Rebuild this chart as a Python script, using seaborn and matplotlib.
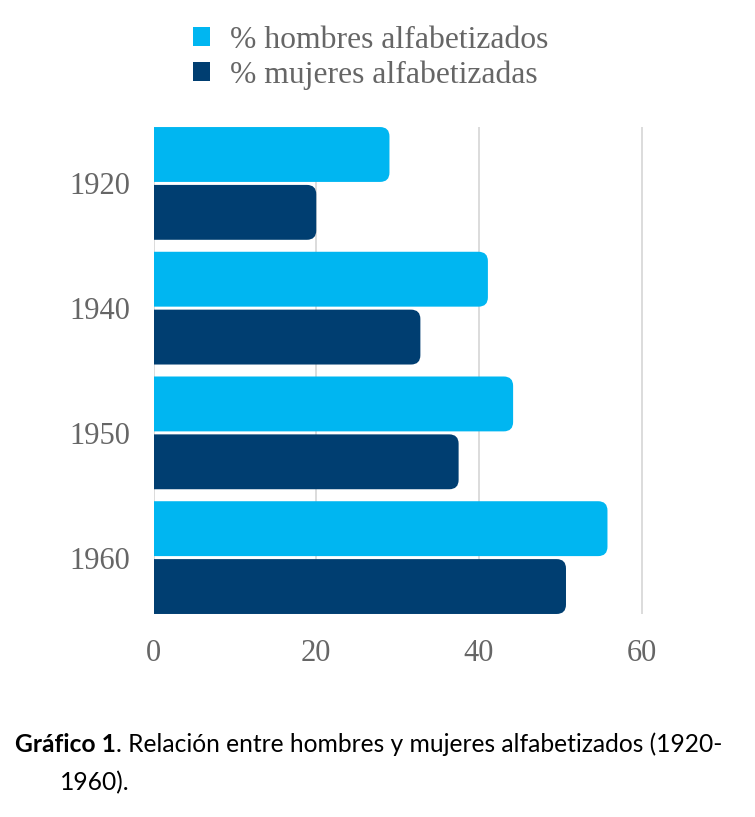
import matplotlib
matplotlib.use("Agg")
import matplotlib.pyplot as plt
import seaborn as sns
import pandas as pd
from matplotlib.patches import FancyBboxPatch, Patch

years = ["1920", "1940", "1950", "1960"]
hombres = [29.0, 41.1, 44.2, 55.8]
mujeres = [20.0, 32.8, 37.5, 50.7]
series = ["% hombres alfabetizados", "% mujeres alfabetizadas"]
colors = ["#00B6F1", "#003E71"]
xticks = [0, 20, 40, 60]

df = pd.DataFrame({
    "year": years * 2,
    "value": hombres + mujeres,
    "serie": [series[0]] * len(years) + [series[1]] * len(years),
})

sns.set_theme(style="white")
plt.rcParams["font.family"] = ["Liberation Serif", "DejaVu Serif"]

fig = plt.figure(figsize=(7.55, 8.17), dpi=100)
ax = fig.add_axes([0.2034, 0.2485, 0.668, 0.596])

sns.barplot(data=df, x="value", y="year", hue="serie", order=years,
            hue_order=series, palette=colors, orient="h", width=0.928,
            legend=False, ax=ax, saturation=1)

ax.set_xlim(0, 62)
ax.set_ylim(3.452, -0.452)

# replace bars with right-rounded versions
bars = list(ax.patches)
for p in bars:
    x0, y0 = p.get_x(), p.get_y()
    w, h = p.get_width(), p.get_height()
    fc = p.get_facecolor()
    p.remove()
    newh = 0.44
    yc = y0 + h / 2
    r = 1.15
    fb = FancyBboxPatch((x0 - 4, yc - newh / 2), w + 4, newh,
                        boxstyle=f"round,pad=0,rounding_size={r}",
                        mutation_aspect=0.065, facecolor=fc, edgecolor="none",
                        zorder=3)
    ax.add_patch(fb)

ax.set_xticks(xticks)
ax.set_xticklabels([str(t) for t in xticks])
ax.grid(axis="x", color="#d9d9d9", linewidth=1.3, zorder=0)
ax.set_axisbelow(True)
for s in ax.spines.values():
    s.set_visible(False)
ax.set_xlabel("")
ax.set_ylabel("")
ax.tick_params(axis="both", length=0, labelsize=22, labelcolor="#666666")
ax.tick_params(axis="y", pad=17)
ax.tick_params(axis="x", pad=18)

handles = [Patch(facecolor=c, edgecolor="none") for c in colors]
leg = fig.legend(handles, series, loc="upper left", bbox_to_anchor=(0.256, 0.968),
                 frameon=False, fontsize=22.8, labelcolor="#666666",
                 handlelength=0.54, handleheight=0.54, handletextpad=0.62,
                 labelspacing=0.17, borderaxespad=0, borderpad=0)

# caption
cap_font = ["Lato", "DejaVu Sans"]
cs = 17.7
t1 = fig.text(15 / 755, 1 - 752 / 817, "Gráfico 1", fontsize=cs, fontweight="bold",
              family=cap_font, color="#000000", va="baseline", ha="left")
fig.canvas.draw()
bb = t1.get_window_extent()
fig.text(bb.x1 / 755, 1 - 752 / 817,
         ". Relación entre hombres y mujeres alfabetizados (1920-",
         fontsize=cs, family=cap_font, color="#000000", va="baseline", ha="left")
fig.text(60 / 755, 1 - 790 / 817, "1960).", fontsize=cs, family=cap_font,
         color="#000000", va="baseline", ha="left")

fig.savefig("out.png", dpi=100)
